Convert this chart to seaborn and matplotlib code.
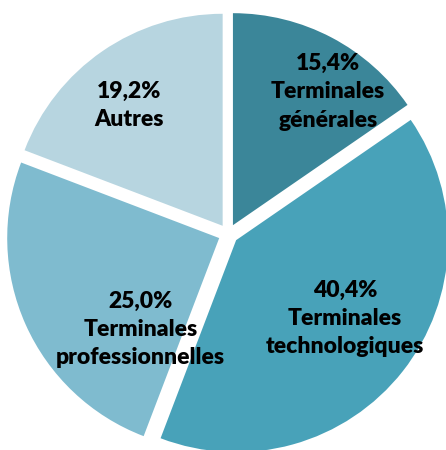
import matplotlib
matplotlib.use("Agg")
import matplotlib.pyplot as plt
import seaborn as sns

categories = ['Terminales\ngénérales', 'Terminales\ntechnologiques',
              'Terminales\nprofessionnelles', 'Autres']
shares = [15.4, 40.4, 25.0, 19.2]
share_labels = ['15,4%', '40,4%', '25,0%', '19,2%']

colors = ['#3b8699', '#48a2b9', '#7fbbcf', '#b7d5e0']
# label centres in data units (pie radius = 1)
label_pos = [(0.47, 0.67), (0.55, -0.40), (-0.413, -0.451), (-0.47, 0.605)]

sns.set_theme(style="white")
plt.rcParams['font.family'] = ['Lato', 'DejaVu Sans']

fig = plt.figure(figsize=(4.46, 4.5), dpi=100)
ax = fig.add_axes([0, 0, 1, 1])

ax.pie(shares, colors=colors, startangle=90, counterclock=False,
       explode=[0.047] * len(shares), radius=1,
       wedgeprops={'linewidth': 0})

for (x, y), pct, cat in zip(label_pos, share_labels, categories):
    ax.text(x, y, pct + '\n' + cat, ha='center', va='center',
            fontsize=16.5, fontweight='heavy', color='black', linespacing=1.42)

# pixel mapping: radius 212 px, centre at (228, 234) from top-left
r_px = 212
cx, cy = 228.3, 234
ax.set_xlim(-cx / r_px, (446 - cx) / r_px)
ax.set_ylim(-(450 - cy) / r_px, cy / r_px)
ax.set_aspect('auto')
ax.axis('off')

fig.savefig('out.png', dpi=100)
